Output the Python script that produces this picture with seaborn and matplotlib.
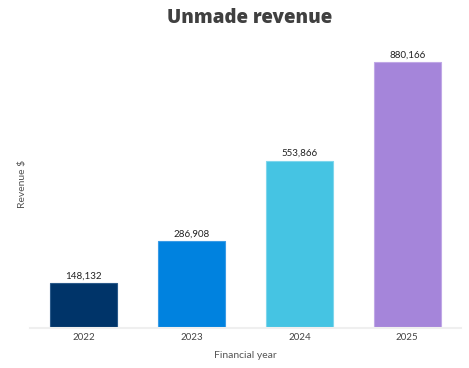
import pandas as pd
import matplotlib
matplotlib.use('Agg')
import matplotlib.pyplot as plt
import seaborn as sns

years = ['2022', '2023', '2024', '2025']
revenue = [148132, 286908, 553866, 880166]
colors = ['#003469', '#0082DF', '#45C4E3', '#A585DA']
edges = ['#2b5a8a', '#3a9be6', '#7fd6ec', '#c0a8e6']

df = pd.DataFrame({'Financial year': years, 'Revenue $': revenue})

sns.set_theme(style='white')
plt.rcParams['font.family'] = ['Lato', 'DejaVu Sans']

fig = plt.figure(figsize=(4.69, 3.68), dpi=100)
ax = fig.add_axes([0.064, 0.109, 0.919, 0.782])

sns.barplot(data=df, x='Financial year', y='Revenue $', hue='Financial year',
            palette=colors, width=0.62, legend=False, ax=ax, saturation=1)
for patch, ec in zip(ax.patches, edges):
    patch.set_edgecolor(ec)
    patch.set_linewidth(0.8)

for c in ax.containers:
    ax.bar_label(c, labels=[f'{v.get_height():,.0f}' for v in c], padding=2,
                 fontsize=7, color='#222222')

ax.set_ylim(0, 953000)
ax.set_xlim(-0.5, 3.5)
ax.set_yticks([])
ax.tick_params(axis='x', labelsize=7, colors='#444444', length=0, pad=4)
for s in ['top', 'right', 'left']:
    ax.spines[s].set_visible(False)
ax.spines['bottom'].set_color('#efefef')
ax.spines['bottom'].set_linewidth(1.5)

ax.set_xlabel('Financial year', fontsize=7.5, color='#555555', labelpad=6)
ax.set_ylabel('Revenue $', fontsize=7.5, color='#555555', labelpad=2)
fig.suptitle('Unmade revenue', x=0.533, y=0.978, fontsize=13.5, fontweight=800,
             color='#404040', family=['Open Sans', 'DejaVu Sans'])

fig.savefig('out.png', dpi=100)
